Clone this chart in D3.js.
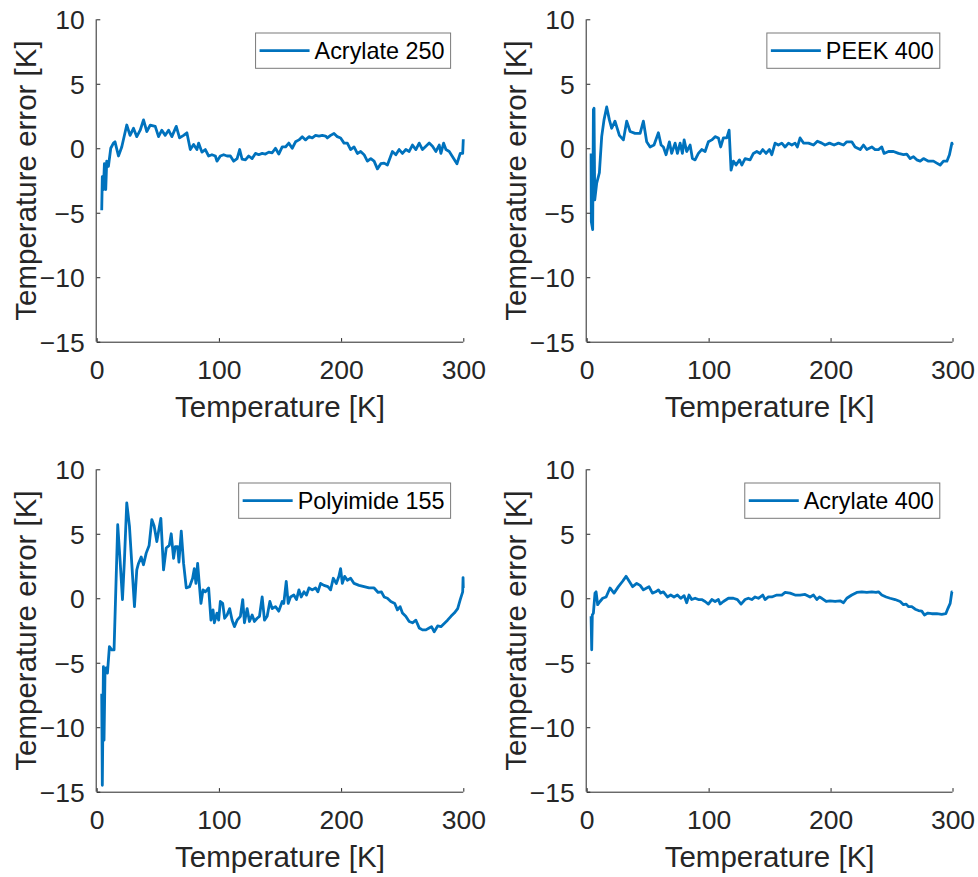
<!DOCTYPE html>
<html>
<head>
<meta charset="utf-8">
<script src="https://cdn.jsdelivr.net/npm/d3@7"></script>
<style>
  body { margin: 0; background: #fff; }
  svg { display: block; font-family: "Liberation Sans", Arial, Helvetica, sans-serif; }
</style>
</head>
<body>
<svg id="chart" width="978" height="877"></svg>
<script>
// temperature [K], temperature error [K]
const acrylate250 = [
  [4.1,-4.8],[4.6,-2.2],[5.5,-3.2],[6.3,-1.2],[7.4,-3.2],[8.2,-1.0],[9.6,-1.4],[11.5,0],[13.7,0.4],[15.0,0.5],
  [17.8,-0.6],[20.5,0.1],[24.6,1.8],[27.3,1.0],[30.1,1.55],[32.8,0.9],[35.6,1.4],[38.3,2.2],[41.0,1.3],[43.8,1.8],
  [47.9,1.7],[50.6,0.9],[53.3,1.4],[56.1,1.0],[58.8,1.4],[61.5,0.9],[65.1,1.7],[67.8,0.8],[71.1,1.0],[73.8,1.2],
  [76.6,-0.1],[79.3,0.3],[82.0,-0.1],[83.4,0.4],[86.1,-0.3],[88.9,-0.1],[91.6,-0.6],[94.3,-0.5],[97.1,-0.6],[98.4,-1.0],
  [101.2,-0.6],[103.9,-0.5],[106.7,-0.6],[109.4,-0.6],[112.1,-1.0],[114.9,-0.8],[117.0,-0.1],[119.0,-0.85],[121.7,-0.9],[124.4,-0.6],
  [127.2,-0.8],[129.9,-0.4],[132.6,-0.5],[135.4,-0.4],[138.1,-0.45],[140.8,-0.3],[143.6,-0.35],[146.3,0],[149.0,-0.45],[151.8,0.1],
  [154.5,0.1],[157.2,0.4],[160.0,0],[162.7,0.5],[165.5,0.65],[168.2,0.9],[170.9,0.65],[173.7,0.9],[176.4,0.8],[179.1,1.0],
  [181.9,0.95],[184.6,1.0],[187.3,0.95],[188.7,0.8],[191.4,1.0],[194.2,1.15],[196.9,0.9],[199.6,0.8],[202.4,0.4],[205.1,0.4],
  [207.8,-0.1],[210.6,0.1],[213.3,-0.4],[216.0,-0.25],[218.8,-0.5],[221.5,-1.0],[224.3,-0.8],[227.0,-1.0],[229.7,-1.6],[232.5,-1.2],
  [235.2,-1.15],[237.9,-1.3],[242.0,-0.25],[244.8,-0.5],[247.5,-0.1],[250.2,-0.4],[253.0,-0.1],[255.7,-0.25],[258.4,0.25],[261.2,-0.1],
  [263.9,0.4],[266.6,-0.1],[269.4,0.15],[272.1,0.4],[274.8,0.15],[277.6,-0.25],[280.3,0.25],[281.7,-0.4],[283.9,0.4],[285.8,-0.1],
  [288.5,-0.25],[291.2,-0.65],[294.8,-1.2],[297.5,-0.4],[299.5,-0.4],[300.0,0.7]
];
const peek400 = [
  [3.6,-0.4],[3.8,-5.7],[4.9,-6.3],[5.5,3.0],[6.0,3.1],[6.6,-4.0],[8.2,-2.7],[10.4,-1.9],[12.3,0.9],[14.2,2.2],
  [16.4,3.2],[18.6,2.2],[20.5,1.55],[23.2,2.1],[26.8,1.0],[30.1,0.65],[32.8,2.1],[35.6,1.3],[39.7,1.15],[43.8,1.15],
  [46.5,2.1],[49.2,0.5],[52.0,0.1],[55.2,0.25],[58.8,1.2],[61.0,0.25],[62.9,0.1],[65.1,-0.5],[67.8,0.5],[69.7,-0.4],
  [72.5,0.4],[74.4,-0.4],[76.6,0.4],[78.5,-0.4],[79.9,0.65],[82.0,-0.25],[84.8,0.25],[86.7,-0.8],[88.9,-0.9],[91.6,-0.4],
  [94.3,-0.1],[97.1,-0.25],[99.8,0.5],[102.6,0.65],[105.3,0.9],[108.0,0.8],[109.9,0.1],[112.1,0.8],[114.9,0.8],[116.8,1.4],
  [118.4,-1.7],[120.3,-1.0],[122.5,-1.3],[125.3,-0.9],[127.2,-1.3],[129.9,-0.8],[134.0,-0.9],[136.7,-0.4],[139.5,-0.25],[142.2,-0.4],
  [144.4,-0.1],[147.1,-0.4],[149.9,-0.1],[151.8,-0.5],[154.5,0.4],[157.2,0.25],[160.0,0.4],[162.7,0.1],[165.5,0.4],[168.2,0.25],
  [170.9,0.4],[172.8,0.1],[175.0,0.8],[177.8,0.4],[181.9,0.4],[186.0,0.25],[189.2,0.55],[192.8,0.4],[195.5,0.25],[199.1,0.4],
  [202.9,0.25],[206.5,0.4],[210.6,0.25],[213.3,0.5],[217.4,0.5],[220.1,0.1],[224.3,-0.1],[227.0,0.25],[229.7,-0.1],[233.8,0.1],
  [236.5,-0.1],[239.3,-0.1],[242.0,0.1],[243.9,-0.4],[247.5,-0.25],[251.6,-0.25],[255.7,-0.4],[259.8,-0.5],[262.5,-0.45],[265.3,-0.8],
  [268.0,-0.65],[270.7,-0.9],[273.5,-1.0],[276.2,-0.8],[280.3,-1.0],[284.4,-1.0],[287.1,-1.15],[289.9,-1.3],[292.6,-1.0],[295.4,-1.0],
  [297.5,-0.5],[299.5,0.4],[300.0,0.25]
];
const polyimide155 = [
  [4.1,-7.4],[4.6,-14.5],[5.5,-5.3],[6.0,-11.0],[6.8,-5.8],[7.7,-5.4],[8.8,-5.8],[10.4,-3.75],[12.3,-4.0],[14.2,-4.0],
  [17.2,5.7],[19.1,3.0],[21.1,-0.1],[22.7,3.0],[24.6,7.4],[26.8,5.6],[28.7,2.7],[30.9,-0.65],[32.8,2.2],[34.2,2.7],
  [36.4,3.2],[38.3,2.6],[40.5,3.5],[42.9,4.1],[45.1,6.1],[47.0,5.6],[49.2,4.4],[52.5,6.2],[54.7,2.2],[56.9,3.9],
  [59.4,4.1],[61.0,5.0],[62.9,3.1],[64.3,4.0],[66.2,4.0],[67.3,2.8],[69.2,5.2],[71.1,2.7],[73.3,0.8],[76.0,0.9],
  [78.5,1.55],[79.9,2.3],[81.2,1.15],[82.6,2.7],[83.9,1.15],[85.3,-0.4],[87.0,0.65],[88.9,0.5],[91.6,0.8],[93.5,-1.7],
  [95.2,-0.9],[96.3,-1.9],[98.4,-1.15],[99.8,-1.7],[101.2,-0.25],[103.1,-0.4],[104.7,-1.55],[106.7,-1.3],[108.8,-0.8],[110.8,-1.7],
  [112.7,-2.2],[114.9,-1.7],[117.6,-1.4],[119.5,-0.1],[120.9,-1.9],[123.1,-0.8],[125.0,-1.8],[127.2,-1.3],[129.1,-1.8],[131.3,-1.55],
  [133.2,-1.4],[135.4,0.1],[137.3,-1.7],[139.5,-1.4],[141.7,-0.25],[143.6,-0.8],[146.3,-0.65],[149.0,-1.0],[151.8,-0.25],[153.1,-0.4],
  [155.1,1.3],[156.7,-0.4],[158.6,0.1],[161.3,0.25],[163.5,-0.1],[165.5,0.65],[167.4,0.1],[169.6,0.5],[171.7,0.25],[173.7,0.8],
  [176.4,0.65],[179.1,0.8],[181.0,0.5],[183.2,1.15],[186.0,1.0],[189.2,0.9],[191.4,0.65],[193.6,1.55],[196.1,1.15],[198.2,1.7],
  [199.6,2.3],[201.0,1.15],[202.9,1.7],[205.1,1.4],[207.8,1.55],[210.6,1.15],[214.7,1.0],[218.8,0.9],[222.9,0.8],[227.0,0.8],
  [230.3,0.45],[233.0,0.5],[235.2,0.1],[237.9,0],[240.7,-0.25],[243.9,-0.4],[246.1,-0.9],[248.3,-0.65],[250.2,-1.15],[252.9,-1.4],
  [255.7,-1.8],[258.4,-1.9],[261.2,-1.7],[263.9,-2.3],[266.6,-2.45],[269.4,-2.45],[272.1,-2.3],[274.0,-2.2],[276.2,-2.6],[279.0,-2.15],
  [281.7,-2.2],[284.4,-1.95],[287.1,-1.7],[289.9,-1.4],[292.6,-1.15],[295.4,-0.8],[297.5,-0.1],[299.5,0.5],[299.8,1.6],[300.0,0.8]
];
const acrylate400 = [
  [3.6,-1.4],[4.1,-4.0],[4.6,-1.3],[5.5,-1.15],[6.8,0.4],[7.7,0.5],[9.0,-0.5],[10.9,-0.25],[13.1,0],[15.9,0.1],
  [19.1,0.8],[22.4,0.4],[26.0,0.9],[29.3,1.3],[32.3,1.7],[35.0,1.3],[37.7,0.9],[41.0,1.15],[43.8,1.0],[46.5,0.65],
  [49.2,0.8],[51.1,0.9],[53.9,0.4],[56.6,0.5],[58.8,0.65],[60.7,0.4],[62.9,0.5],[66.2,0.1],[68.9,0.25],[71.6,0.1],
  [74.4,0.25],[77.1,0],[79.9,0.2],[82.0,-0.35],[83.9,0.25],[86.1,-0.1],[88.9,0],[91.6,-0.1],[94.3,-0.1],[97.1,-0.25],
  [99.8,-0.45],[102.6,-0.1],[105.3,-0.25],[108.0,-0.1],[109.4,-0.45],[112.1,-0.25],[116.2,0],[120.3,0],[123.6,-0.1],[126.6,-0.45],
  [129.9,-0.1],[132.6,0],[135.4,-0.1],[138.1,0.1],[140.8,0],[144.4,0.25],[146.3,-0.1],[149.0,0.1],[151.8,0.1],[155.9,0.25],
  [160.0,0.25],[162.7,0.45],[166.8,0.4],[170.9,0.25],[175.0,0.25],[179.1,0.3],[183.2,0.1],[186.0,0.25],[188.7,-0.1],[190.9,0.1],
  [192.8,0],[196.4,-0.25],[199.6,-0.2],[203.7,-0.25],[207.8,-0.2],[210.6,-0.35],[213.3,0],[217.4,0.25],[221.5,0.45],[225.6,0.5],
  [229.7,0.45],[233.8,0.5],[237.3,0.45],[239.3,0.5],[242.0,0.25],[245.6,0.1],[248.8,0],[252.9,-0.1],[257.1,-0.25],[259.8,-0.5],
  [262.0,-0.45],[263.9,-0.65],[266.6,-0.65],[269.4,-0.85],[272.1,-0.95],[274.8,-1.0],[277.0,-1.3],[279.8,-1.15],[283.0,-1.2],[287.1,-1.2],
  [291.2,-1.25],[294.5,-1.2],[296.2,-0.8],[298.1,-0.4],[299.5,0.5],[300.0,0.5]
];

const seriesNames = ["Acrylate 250", "PEEK 400", "Polyimide 155", "Acrylate 400"];
const seriesData = [acrylate250, peek400, polyimide155, acrylate400];
const xTicks = [0, 100, 200, 300];
const yTicks = [-15, -10, -5, 0, 5, 10];
const xLabel = "Temperature [K]";
const yLabel = "Temperature error [K]";

// axes boxes (pixels)
const panels = [
  {x0: 96.7, x1: 463.3, y0: 19.3, y1: 341.7},
  {x0: 586.7, x1: 952.5, y0: 19.3, y1: 341.7},
  {x0: 96.7, x1: 463.3, y0: 469.3, y1: 791.7},
  {x0: 586.7, x1: 952.5, y0: 469.3, y1: 791.7}
];

const axisColor = "#262626";
const lineColor = "#0072BD";

const svg = d3.select("#chart");

panels.forEach(function(p, i) {
  const x = d3.scaleLinear().domain([0, 300]).range([p.x0, p.x1]);
  const y = d3.scaleLinear().domain([-15, 10]).range([p.y1, p.y0]);
  const g = svg.append("g");

  // data line
  const line = d3.line().x(d => x(d[0])).y(d => y(d[1]));
  g.append("path")
    .datum(seriesData[i])
    .attr("d", line)
    .attr("fill", "none")
    .attr("stroke", lineColor)
    .attr("stroke-width", 2.8)
    .attr("stroke-linejoin", "round");

  // x axis (ticks inside)
  const xa = g.append("g")
    .attr("transform", "translate(0," + p.y1 + ")")
    .call(d3.axisBottom(x).tickValues(xTicks).tickSize(-3.6).tickPadding(0).tickFormat(d3.format("d")));
  // y axis (ticks inside)
  const ya = g.append("g")
    .attr("transform", "translate(" + p.x0 + ",0)")
    .call(d3.axisLeft(y).tickValues(yTicks).tickSize(-3.6).tickPadding(0).tickFormat(d3.format("d")));

  [xa, ya].forEach(function(a) {
    a.select(".domain").attr("stroke", axisColor).attr("stroke-width", 1)
      .attr("d", a === xa ? "M" + p.x0 + ",0.5H" + p.x1 : "M-0.5," + p.y0 + "V" + p.y1);
    a.selectAll(".tick line").attr("stroke", axisColor).attr("stroke-width", 1);
    a.selectAll(".tick text")
      .attr("fill", axisColor)
      .style("font-size", "26.5px")
      .style("font-family", "'Liberation Sans', Arial, sans-serif");
  });
  xa.selectAll(".tick text").attr("y", 37.8).attr("dy", null);
  ya.selectAll(".tick text").attr("x", -12).attr("dy", "0.36em");

  // axis labels
  g.append("text")
    .attr("x", (p.x0 + p.x1) / 2)
    .attr("y", p.y1 + 75.5)
    .attr("text-anchor", "middle")
    .attr("fill", axisColor)
    .style("font-size", "29.5px")
    .text(xLabel);
  g.append("text")
    .attr("transform", "translate(" + (p.x0 - 61) + "," + ((p.y0 + p.y1) / 2) + ") rotate(-90)")
    .attr("text-anchor", "middle")
    .attr("fill", axisColor)
    .style("font-size", "29.5px")
    .text(yLabel);

  // legend, top right
  const lg = g.append("g");
  const boxTop = p.y0 + 13.7, boxH = 35.3;
  const label = lg.append("text")
    .attr("y", boxTop + boxH / 2 + 8.3)
    .attr("fill", "#000")
    .style("font-size", "23.4px")
    .text(seriesNames[i]);
  const tw = label.node().getComputedTextLength();
  const boxW = 4 + 50 + 5 + tw + 6;
  const boxRight = p.x1 - 12.7;
  const boxLeft = boxRight - boxW;
  label.attr("x", boxLeft + 59);
  lg.insert("rect", "text")
    .attr("x", boxLeft).attr("y", boxTop)
    .attr("width", boxW).attr("height", boxH)
    .attr("fill", "#fff")
    .attr("stroke", "#7a7a7a")
    .attr("stroke-width", 1);
  lg.append("line")
    .attr("x1", boxLeft + 4).attr("x2", boxLeft + 54)
    .attr("y1", boxTop + boxH / 2).attr("y2", boxTop + boxH / 2)
    .attr("stroke", lineColor)
    .attr("stroke-width", 2.8);
});
</script>
</body>
</html>
